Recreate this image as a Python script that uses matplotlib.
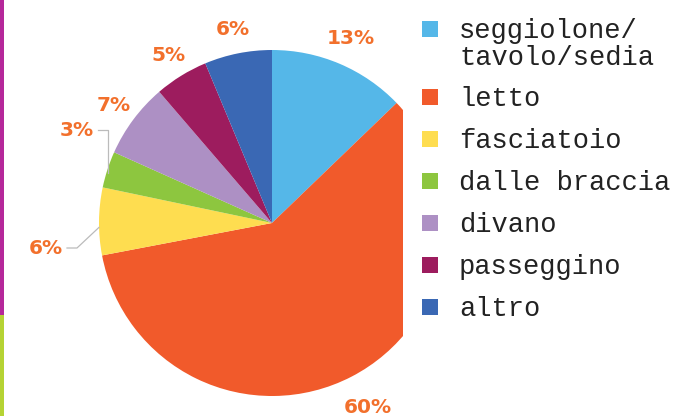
import numpy as np
import matplotlib
matplotlib.use("Agg")
import matplotlib.pyplot as plt
from matplotlib.patches import Rectangle

categories = ["seggiolone/\ntavolo/sedia", "letto", "fasciatoio", "dalle braccia",
              "divano", "passeggino", "altro"]
# shares as measured from the wedge angles; printed labels as shown
values = [12.8, 59.2, 6.3, 3.4, 7.0, 5.0, 6.3]
pct_labels = ["13%", "60%", "6%", "3%", "7%", "5%", "6%"]
colors = ["#55b7e8", "#f15a2b", "#fedd50", "#8dc63f", "#ad90c4", "#9d1c5e", "#3a68b4"]
label_color = "#f2702c"

W, H = 675, 416
fig = plt.figure(figsize=(W / 100, H / 100), dpi=100)
ax = fig.add_axes([0, 0, 1, 1])

cx, cy, r = 272, 223, 173
# y axis gets inverted below, so counterclock=True draws clockwise on screen
wedges, _ = ax.pie(values, colors=colors, startangle=-90, counterclock=True,
                   center=(cx, cy), radius=r, frame=True,
                   wedgeprops=dict(linewidth=0))
ax.set_xlim(0, W)
ax.set_ylim(H, 0)
ax.set_aspect("equal")
ax.axis("off")

# the pie is cut off on its right side
clip = Rectangle((0, H), 403, -H, transform=ax.transData)
for w in wedges:
    w.set_clip_on(True)
    w.set_clip_path(clip)

# side bars on the left edge
ax.add_patch(Rectangle((0, 0), 4, 315, color="#b5279a", lw=0))
ax.add_patch(Rectangle((0, 315), 4, H - 315, color="#b5d334", lw=0))

font_lbl = dict(color=label_color, fontsize=14.5, fontweight="bold",
                family="DejaVu Sans")
line_kw = dict(color="#bbbbbb", lw=0.9)
for i, w in enumerate(wedges):
    ang = np.deg2rad((w.theta1 + w.theta2) / 2)
    ex, ey = cx + r * np.cos(ang), cy + r * np.sin(ang)
    txt = pct_labels[i]
    if categories[i] == "fasciatoio":
        ax.plot([ex, 77, 67], [ey + 6, 248, 248], **line_kw)
        ax.text(63, 248, txt, ha="right", va="center", **font_lbl)
    elif categories[i] == "dalle braccia":
        ax.plot([108, 108, 98], [ey + 3, 130, 130], **line_kw)
        ax.text(94, 130, txt, ha="right", va="center", **font_lbl)
    else:
        k = {0: 1.16, 1: 1.2}.get(i, 1.14)
        ax.text(cx + k * r * np.cos(ang), cy + k * r * np.sin(ang), txt,
                ha="center", va="center", **font_lbl)

# legend
y = 29
for lab, col in zip(categories, colors):
    ax.add_patch(Rectangle((422, y - 8), 16, 16, color=col, lw=0))
    ax.text(459, y - 11, lab, ha="left", va="top", fontsize=19.5,
            family="Liberation Mono", color="#222222", linespacing=1.05)
    y += 42 + 26 * lab.count("\n")

fig.savefig("out.png", dpi=100)
